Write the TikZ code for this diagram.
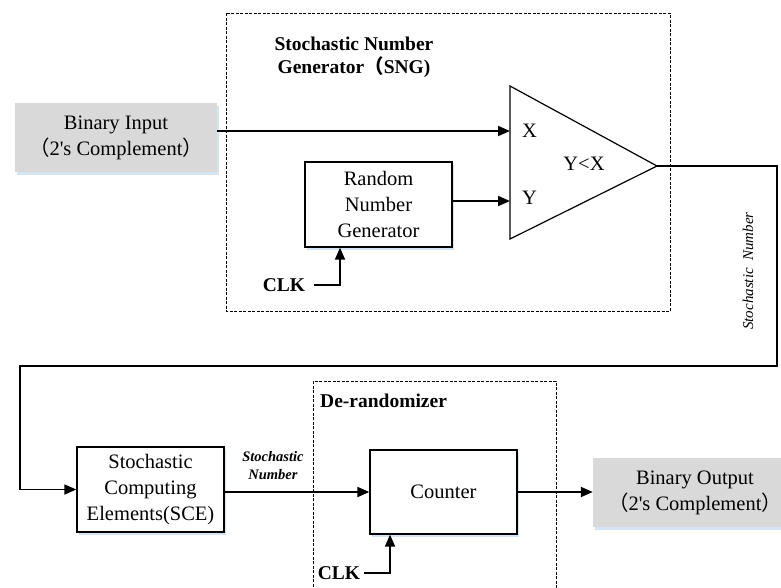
\documentclass[tikz,border=0pt]{standalone}
\usepackage{fontspec}
\setmainfont{Liberation Serif}
\newfontfamily\cjk{Noto Sans CJK SC}
\usetikzlibrary{arrows.meta,shadows}
\definecolor{boxgray}{HTML}{D9D9D9}
\definecolor{shadowblue}{HTML}{C9DDF0}
\begin{document}
\begin{tikzpicture}[x=1pt,y=-1pt,
  every node/.style={font=\fontsize{20.5}{26}\selectfont},
  shad/.style={drop shadow={shadow xshift=1.5pt,shadow yshift=-2.5pt,fill=shadowblue,opacity=0.8}},
  blk/.style={draw,line width=1.3pt,align=center,minimum width=147pt,minimum height=85pt,inner sep=0pt,fill=white,shad},
  graybox/.style={fill=boxgray,align=center,minimum width=202pt,minimum height=69pt,inner sep=0pt,shad},
  conn/.style={line width=1.8pt,-{Triangle[length=12pt,width=10pt]}},
  dashbox/.style={line width=0.8pt,dash pattern=on 3pt off 1.5pt},
  boldlbl/.style={font=\bfseries\fontsize{19.5}{23}\selectfont,inner sep=0pt},
  cjkp/.style={}]
\useasboundingbox (0,0) rectangle (781,587);
% dashed groups
\draw[dashbox] (226,13) rectangle (670,311);
\draw[dashbox] (313,600) -- (313,381) -- (556,381) -- (556,600);
% labels of groups
\node[boldlbl,align=center] (sngl) at (354,57) {Stochastic Number\\Generator{\cjk （}SNG)};
\node[boldlbl,anchor=west] (drl) at (320,401) {De-randomizer};
% blocks
\node[graybox] (bin) at (116,137.5) {Binary Input\\{\cjk （}2\textquotesingle s Complement{\cjk ）}};
\node[blk] (rng) at (378.5,204.5) {Random\\Number\\Generator};
\node[blk] (sce) at (150.5,489.5) {Stochastic\\Computing\\Elements(SCE)};
\node[blk,minimum height=84pt] (cnt) at (443.5,492) {Counter};
\node[graybox,minimum width=204pt] (bout) at (695,492.5) {Binary Output\\{\cjk （}2\textquotesingle s Complement{\cjk ）}};
% comparator
\draw[line width=1.2pt,fill=white] (510,86) -- (657,166) -- (510,239) -- cycle;
\coordinate (tX) at (510,131);
\coordinate (tY) at (510,201);
\coordinate (tA) at (657,166);
\node[inner sep=0pt] (lx) at (529.5,131) {X};
\node[inner sep=0pt] (ly) at (529.5,198) {Y};
\node[inner sep=0pt] (lyx) at (584,163.5) {Y<X};
% clocks
\node[boldlbl] (clk1) at (284,285) {CLK};
\node[boldlbl] (clk2) at (339,573) {CLK};
% connectors
\draw[conn] (bin.east |- tX) -- (tX);
\draw[conn] (rng.east |- tY) -- (tY);
\draw[conn] ([xshift=9pt]clk1.east) -| ([xshift=-38.5pt]rng.south);
\draw[conn] ([xshift=4pt]clk2.east) -| ([xshift=-53.5pt]cnt.south);
\coordinate (c1) at (777,366);
\coordinate (c2) at (20,366);
\draw[conn] (tA) -| (c1) -- (c2) |- (sce.west);
\draw[conn] (sce.east |- cnt.west) -- (cnt.west);
\draw[conn] (cnt.east) -- (bout.west |- cnt.east);
% connector labels
\node[rotate=90,font=\itshape\fontsize{15}{18}\selectfont,inner sep=0pt] (vl) at (748,271) {Stochastic\ \ Number};
\node[font=\bfseries\itshape\fontsize{14.5}{18}\selectfont,align=center,inner sep=0pt] (bl) at (273,466) {Stochastic\\Number};
\end{tikzpicture}
\end{document}
